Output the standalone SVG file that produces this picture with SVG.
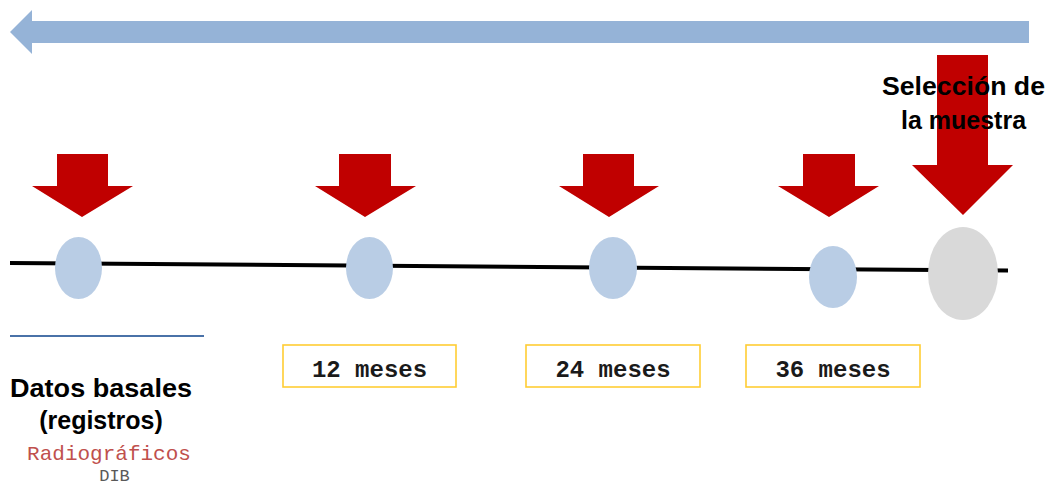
<svg xmlns="http://www.w3.org/2000/svg" width="1048" height="486" viewBox="0 0 1048 486">
<style>
.red{fill:#c00000}
.pt{fill:#b9cde5}
.box{fill:#ffffff;stroke:#ffc000;stroke-width:1.6;stroke-opacity:0.8}
.mono{font-family:"Liberation Mono","Courier New",monospace}
.bold{font-family:"Liberation Sans",Arial,sans-serif;font-weight:bold;fill:#000}
</style>
<rect width="1048" height="486" fill="#ffffff"/>
<g id="timeline-arrow">
<polygon points="1029,21 32,21 32,10 10,32 32,54 32,43 1029,43" fill="#95b3d7"/>
</g>
<g id="connectors">
<line x1="10" y1="263" x2="1008" y2="270.5" stroke="#000" stroke-width="4"/>
<line x1="10" y1="336" x2="204" y2="336" stroke="#4a72a8" stroke-width="2"/>
</g>
<g id="arrow-basal"><polygon class="red" points="57,154 108,154 108,186 133,186 82,217 32,186 57,186"/></g>
<g id="arrow-12"><polygon class="red" points="339,154 391,154 391,186 416,186 365,217 315,186 339,186"/></g>
<g id="arrow-24"><polygon class="red" points="583,154 634,154 634,186 659,186 609,217 559,186 583,186"/></g>
<g id="arrow-36"><polygon class="red" points="803,154 855,154 855,186 879,186 829,217 778,186 803,186"/></g>
<g id="arrow-seleccion"><polygon class="red" points="937,55 988,55 988,165 1013,165 963,215 912,165 937,165"/></g>
<g id="node-basal"><ellipse class="pt" cx="78.5" cy="268" rx="23.5" ry="31"/></g>
<g id="node-12"><ellipse class="pt" cx="369.5" cy="268" rx="23.5" ry="31"/></g>
<g id="node-24"><ellipse class="pt" cx="613" cy="268" rx="24" ry="31"/></g>
<g id="node-36"><ellipse class="pt" cx="833" cy="277" rx="24" ry="31"/></g>
<g id="node-seleccion"><ellipse cx="963" cy="273.5" rx="35" ry="46.5" fill="#d9d9d9"/></g>
<g id="label-seleccion">
<text class="bold" x="963.5" y="95" text-anchor="middle" font-size="25" textLength="163" lengthAdjust="spacingAndGlyphs">Selección de</text>
<text class="bold" x="963.5" y="129" text-anchor="middle" font-size="25">la muestra</text>
</g>
<g id="box-12"><rect class="box" x="283" y="345" width="173" height="42"/><text class="mono" x="369.5" y="377" text-anchor="middle" font-size="24" font-weight="bold" fill="#1a1a1a">12 meses</text></g>
<g id="box-24"><rect class="box" x="526" y="345" width="174" height="42"/><text class="mono" x="613" y="377" text-anchor="middle" font-size="24" font-weight="bold" fill="#1a1a1a">24 meses</text></g>
<g id="box-36"><rect class="box" x="746" y="345" width="174" height="42"/><text class="mono" x="833" y="377" text-anchor="middle" font-size="24" font-weight="bold" fill="#1a1a1a">36 meses</text></g>
<g id="label-basal">
<text class="bold" x="101" y="397" text-anchor="middle" font-size="25" textLength="182" lengthAdjust="spacingAndGlyphs">Datos basales</text>
<text class="bold" x="101" y="429" text-anchor="middle" font-size="25">(registros)</text>
<text class="mono" x="109" y="460" text-anchor="middle" font-size="21" fill="#c0504d">Radiográficos</text>
<text class="mono" x="114.5" y="481" text-anchor="middle" font-size="17" fill="#595959">DIB</text>
</g>
</svg>
